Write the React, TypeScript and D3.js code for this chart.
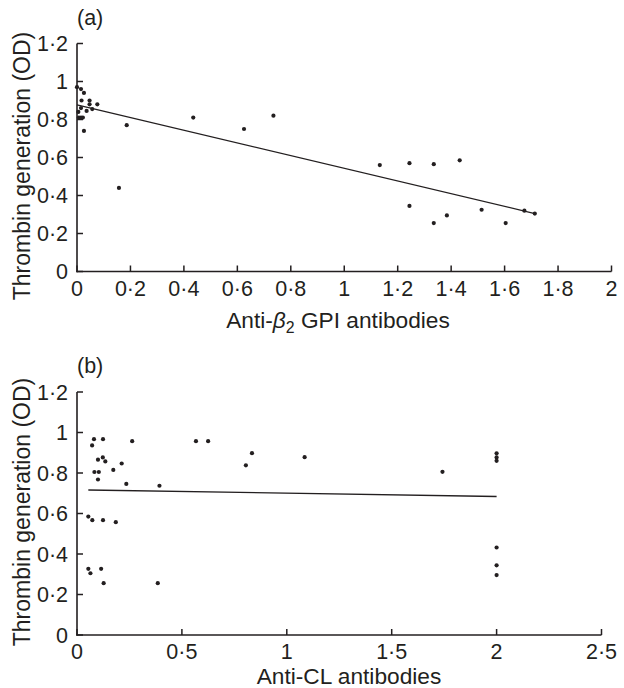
import React from "react";
import * as d3 from "d3";

// Panel (a): Anti-β2 GPI antibodies vs thrombin generation
const xA = [0, 0.015, 0.026, 0.017, 0.005, 0.015, 0.007, 0.015, 0.022, 0.036, 0.047, 0.047, 0.057, 0.076, 0.026, 0.186, 0.157, 0.435, 0.625, 0.735, 1.133, 1.244, 1.335, 1.432, 1.244, 1.335, 1.384, 1.514, 1.604, 1.674, 1.713];
const yA = [0.97, 0.96, 0.94, 0.9, 0.84, 0.86, 0.81, 0.81, 0.81, 0.845, 0.9, 0.88, 0.855, 0.88, 0.74, 0.77, 0.44, 0.81, 0.75, 0.82, 0.56, 0.57, 0.565, 0.585, 0.345, 0.255, 0.295, 0.325, 0.255, 0.32, 0.305];
const fitAx = [0, 1.713];
const fitAy = [0.877, 0.305];
const ticksAx = [0, 0.2, 0.4, 0.6, 0.8, 1, 1.2, 1.4, 1.6, 1.8, 2];

// Panel (b): Anti-CL antibodies vs thrombin generation
const xB = [0.054, 0.073, 0.124, 0.185, 0.072, 0.081, 0.124, 0.263, 0.1, 0.123, 0.135, 0.083, 0.104, 0.1, 0.173, 0.213, 0.235, 0.393, 0.567, 0.625, 0.805, 0.834, 1.085, 0.054, 0.064, 0.115, 0.127, 0.385, 1.742, 2, 2, 2, 2, 2, 2];
const yB = [0.585, 0.567, 0.567, 0.557, 0.936, 0.967, 0.967, 0.957, 0.866, 0.877, 0.857, 0.805, 0.805, 0.768, 0.815, 0.847, 0.746, 0.737, 0.957, 0.957, 0.838, 0.898, 0.878, 0.327, 0.305, 0.327, 0.256, 0.256, 0.806, 0.897, 0.877, 0.86, 0.432, 0.344, 0.296];
const fitBx = [0.054, 2.0];
const fitBy = [0.716, 0.684];
const ticksBx = [0, 0.5, 1, 1.5, 2, 2.5];

const ticksY = [0, 0.2, 0.4, 0.6, 0.8, 1, 1.2];

const FONT = "'Liberation Sans', Arial, Helvetica, sans-serif";
const FS = 21.5;
const FS_TITLE = 22.7;
const FS_YTITLE = 23;

const fmt = (v: number) => String(+v.toFixed(2)).replace(".", "·");

type PanelProps = {
  xs: number[];
  ys: number[];
  fx: number[];
  fy: number[];
  xTicks: number[];
  xDomain: [number, number];
  xRange: [number, number];
  yRange: [number, number];
  letter: string;
  letterY: number;
  xTitle: React.ReactNode;
  xTitleX: number;
  xTitleY: number;
  yTitleY: number;
};

function Panel(p: PanelProps) {
  const x = d3.scaleLinear().domain(p.xDomain).range(p.xRange);
  const y = d3.scaleLinear().domain([0, 1.2]).range(p.yRange);
  const line = d3.line<[number, number]>().x((d) => x(d[0])).y((d) => y(d[1]));
  const fitPts: [number, number][] = p.fx.map((v, i) => [v, p.fy[i]]);
  const x0 = p.xRange[0];
  const y0 = p.yRange[0];
  return (
    <g fontFamily={FONT} fill="#231f20">
      {/* axes */}
      <line x1={x0} x2={x0} y1={y(1.2)} y2={y0 + 0.75} stroke="#231f20" strokeWidth={1.6} />
      <line x1={x0 - 0.75} x2={p.xRange[1]} y1={y0} y2={y0} stroke="#231f20" strokeWidth={1.6} />
      {ticksY.map((t) => (
        <g key={"y" + t}>
          <line x1={x0} x2={x0 + 6} y1={y(t)} y2={y(t)} stroke="#231f20" strokeWidth={1.5} />
          <text x={x0 - 9} y={y(t)} dy="0.36em" textAnchor="end" fontSize={FS}>
            {fmt(t)}
          </text>
        </g>
      ))}
      {p.xTicks.map((t) => (
        <g key={"x" + t}>
          <line x1={x(t)} x2={x(t)} y1={y0} y2={y0 - 6} stroke="#231f20" strokeWidth={1.5} />
          <text x={x(t)} y={y0 + 24} textAnchor="middle" fontSize={FS}>
            {fmt(t)}
          </text>
        </g>
      ))}
      {/* fit line */}
      <path d={line(fitPts) || ""} fill="none" stroke="#231f20" strokeWidth={1.3} />
      {/* points */}
      {p.xs.map((v, i) => (
        <circle key={i} cx={x(v)} cy={y(p.ys[i])} r={2.1} fill="#231f20" />
      ))}
      {/* titles */}
      <text x={x0} y={p.letterY} fontSize={FS}>
        {p.letter}
      </text>
      <text x={p.xTitleX} y={p.xTitleY} textAnchor="middle" fontSize={FS_TITLE}>
        {p.xTitle}
      </text>
      <text
        transform={`translate(30,${p.yTitleY}) rotate(-90)`}
        textAnchor="middle"
        fontSize={FS_YTITLE}
      >
        Thrombin generation (OD)
      </text>
    </g>
  );
}

export default function App() {
  return (
    <svg
      width={624}
      height={688}
      style={{ position: "absolute", left: 0, top: 0, background: "#fff" }}
    >
      <rect width={624} height={688} fill="#fff" />
      <Panel
        xs={xA}
        ys={yA}
        fx={fitAx}
        fy={fitAy}
        xTicks={ticksAx}
        xDomain={[0, 2]}
        xRange={[77, 611.5]}
        yRange={[271.5, 43.5]}
        letter="(a)"
        letterY={25}
        xTitle={
          <>
            Anti-<tspan fontStyle="italic">β</tspan>
            <tspan fontSize={FS_TITLE * 0.7} dy={5}>2</tspan>
            <tspan dy={-5}> GPI antibodies</tspan>
          </>
        }
        xTitleX={338}
        xTitleY={328}
        yTitleY={166}
      />
      <Panel
        xs={xB}
        ys={yB}
        fx={fitBx}
        fy={fitBy}
        xTicks={ticksBx}
        xDomain={[0, 2.5]}
        xRange={[77, 601.5]}
        yRange={[635, 392]}
        letter="(b)"
        letterY={373}
        xTitle="Anti-CL antibodies"
        xTitleX={349}
        xTitleY={684}
        yTitleY={512}
      />
    </svg>
  );
}
